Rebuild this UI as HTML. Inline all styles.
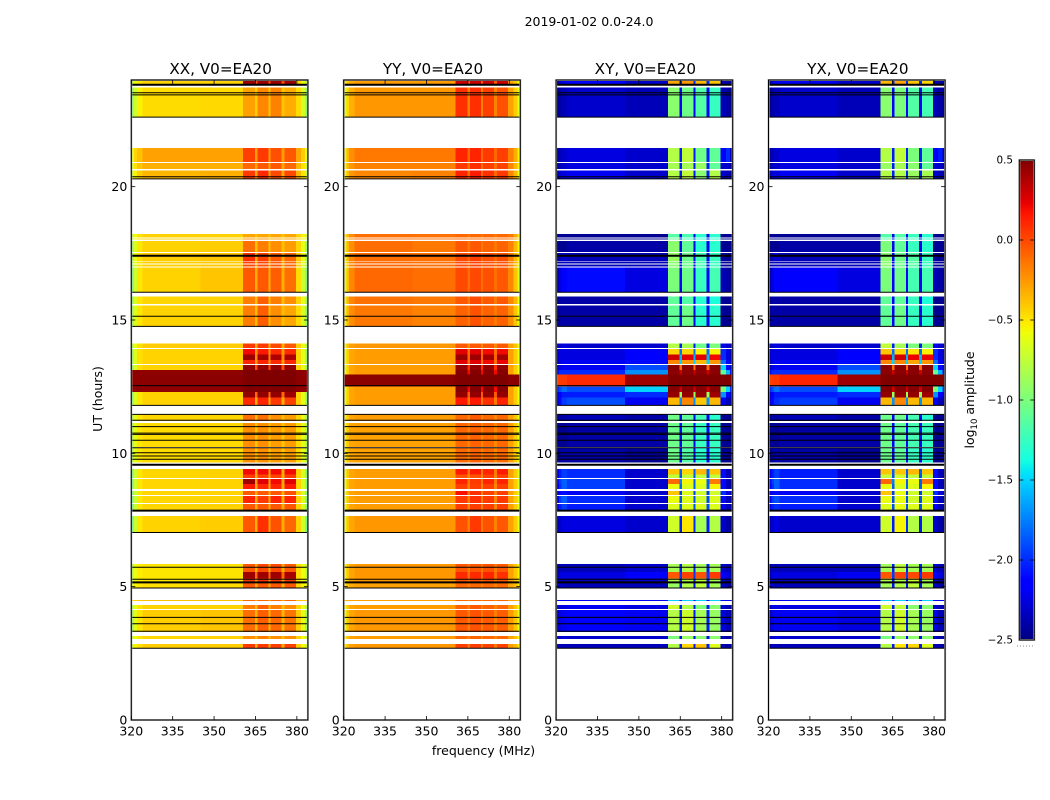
<!DOCTYPE html>
<html>
<head>
<meta charset="utf-8">
<title>2019-01-02 0.0-24.0</title>
<style>
html,body{margin:0;padding:0;background:#fff}
svg{display:block}
text{font-family:"DejaVu Sans","Liberation Sans",sans-serif;fill:#000}
</style>
</head>
<body>
<svg id="chart" xmlns="http://www.w3.org/2000/svg" width="1050" height="800" viewBox="0 0 1050 800">
<text x="589" y="26" font-size="12.5" text-anchor="middle">2019-01-02 0.0-24.0</text>
<text x="0" y="0" font-size="12.5" text-anchor="middle" transform="translate(102 399) rotate(-90)">UT (hours)</text>
<text x="483.5" y="755" font-size="12.5" text-anchor="middle">frequency (MHz)</text>
<text x="0" y="0" font-size="12.5" text-anchor="middle" transform="translate(974 400) rotate(-90)">log<tspan font-size="8.5" dy="3">10</tspan><tspan dy="-3"> amplitude</tspan></text>
</svg>
<script>
const panelTitles=["XX, V0=EA20","YY, V0=EA20","XY, V0=EA20","YX, V0=EA20"];
const xTicks=[320,335,350,365,380];
const yTicks=[0,5,10,15,20];
const colorbarTicks=[0.5,0,-0.5,-1,-1.5,-2,-2.5];
const freqEdges=[320,321,322,324,345,360.5,364.8,365.7,369.8,370.5,374.5,375.6,379.6,381.5,383,384];
const rowTop=[24,23.72,21.45,20.89,20.61,18.23,18.05,17.97,17.51,17.19,17.08,16.97,15.88,15.54,14.12,13.91,13.7,13.5,13.31,13.12,12.95,12.5,12.3,12.1,11.47,11.14,10.22,9.41,9.2,9.04,8.85,8.59,8.4,8.1,7.65,5.85,5.55,5.3,5.14,4.5,4.31,4.13,3.15,2.85,0.04];
const rowBottom=[23.83,22.61,20.93,20.66,20.31,18.09,18.01,17.55,17.22,17.11,17,16.05,15.6,14.78,13.95,13.7,13.5,13.35,13.12,12.95,12.5,12.3,12.1,11.79,11.21,10.24,9.66,9.2,9.08,8.85,8.66,8.44,8.14,7.84,7.03,5.55,5.3,5.18,4.95,4.47,4.16,3.3,3.04,2.7,0];
const blackLines=[23.82,23.52,23.44,22.61,20.37,20.29,17.41,16.04,15.14,14.76,12.54,11.8,11.46,11.24,11,10.76,10.71,10.49,10.21,10.02,9.9,9.78,9.57,7.85,7.03,5.73,5.28,5.16,4.95,3.85,3.61,3.33,2.69];
const thickLines=[23.82,17.41,9.57,7.85,5.16];
const ampXX=[
[-.75,-.6,-.5,-.44,-.44,.42,0,.42,0,.42,0,.42,-.45,-.6,-.8],
[-.9,-.7,-.54,-.47,-.46,-.28,-.42,-.2,-.4,-.18,-.4,-.32,-.47,-.68,-.92],
[-.6,-.45,-.38,-.28,-.28,.03,-.27,.05,-.27,-.02,-.27,-.05,-.3,-.42,-.62],
[-.65,-.5,-.4,-.33,-.33,-.1,-.3,-.05,-.3,-.05,-.3,-.1,-.35,-.5,-.7],
[-.7,-.55,-.42,-.35,-.33,.05,-.3,.1,-.3,0,-.3,0,-.35,-.5,-.75],
[-.7,-.58,-.48,-.44,-.44,-.3,-.4,-.3,-.4,-.3,-.4,-.3,-.44,-.55,-.7],
[-.7,-.58,-.48,-.44,-.44,-.25,-.4,-.25,-.4,-.3,-.4,-.3,-.44,-.55,-.7],
[-.85,-.65,-.5,-.44,-.42,-.12,-.38,-.17,-.38,-.22,-.38,-.27,-.44,-.62,-.87],
[-.85,-.6,-.48,-.42,-.4,.08,-.32,.03,-.32,-.05,-.32,-.1,-.42,-.62,-.87],
[-.85,-.62,-.5,-.43,-.41,.02,-.32,.02,-.32,-.05,-.32,-.1,-.42,-.62,-.87],
[-.9,-.65,-.5,-.43,-.41,0,-.32,0,-.32,-.05,-.32,-.1,-.43,-.65,-.9],
[-.95,-.7,-.5,-.44,-.4,-.05,-.32,-.05,-.32,-.07,-.32,-.12,-.47,-.72,-.97],
[-.9,-.65,-.5,-.45,-.44,-.17,-.37,-.07,-.37,-.17,-.37,-.22,-.44,-.62,-.87],
[-.85,-.65,-.5,-.44,-.44,-.17,-.37,-.07,-.37,-.22,-.37,-.3,-.47,-.67,-.92],
[-.8,-.6,-.48,-.42,-.42,.05,-.32,.05,-.32,0,-.32,-.05,-.42,-.62,-.8],
[-.85,-.65,-.48,-.44,-.44,.2,-.27,.15,-.27,.1,-.27,.1,-.44,-.62,-.87],
[-.85,-.65,-.48,-.44,-.44,.42,-.2,.4,-.2,.38,-.2,.38,-.44,-.62,-.87],
[-.85,-.65,-.48,-.44,-.44,.12,-.27,.12,-.27,.1,-.27,.1,-.44,-.62,-.87],
[-.9,-.65,-.48,-.44,-.44,.45,0,.45,0,.45,0,.45,-.44,-.62,-.9],
[.46,.46,.46,.46,.46,.5,.48,.5,.48,.5,.48,.5,.46,.46,.46],
[.46,.46,.46,.47,.47,.5,.5,.5,.5,.5,.5,.5,.47,.46,.46],
[.46,.46,.46,.46,.46,.5,.48,.5,.48,.5,.48,.5,.46,.46,.46],
[-.9,-.65,-.5,-.44,-.44,.45,-.1,.45,-.1,.45,-.1,.42,-.44,-.62,-.9],
[-.9,-.65,-.5,-.44,-.44,.1,-.32,.12,-.32,.05,-.32,.02,-.44,-.62,-.9],
[-.8,-.62,-.5,-.45,-.45,-.12,-.37,-.12,-.37,-.22,-.37,-.27,-.44,-.62,-.87],
[-.8,-.62,-.5,-.47,-.46,-.22,-.4,-.22,-.4,-.27,-.4,-.27,-.47,-.64,-.82],
[-.8,-.62,-.5,-.47,-.46,-.22,-.4,-.22,-.4,-.27,-.4,-.27,-.47,-.64,-.82],
[-.95,-.7,-.5,-.45,-.44,.2,-.32,.2,-.32,.2,-.32,.2,-.44,-.67,-.97],
[-.95,-.7,-.5,-.45,-.44,.05,-.32,.02,-.32,.02,-.32,.05,-.44,-.67,-.97],
[-.95,-.7,-.5,-.45,-.44,.42,-.25,.25,-.3,.2,-.3,.25,-.44,-.67,-.97],
[-.95,-.7,-.5,-.45,-.44,.15,-.32,.1,-.32,.12,-.32,.15,-.44,-.67,-.97],
[-1,-.72,-.5,-.45,-.44,-.05,-.32,-.05,-.32,-.05,-.32,-.02,-.44,-.67,-.97],
[-1,-.72,-.5,-.45,-.44,.12,-.32,.05,-.32,.12,-.32,.12,-.44,-.67,-.97],
[-1,-.72,-.5,-.45,-.44,-.05,-.32,-.05,-.32,-.05,-.32,-.05,-.44,-.67,-.97],
[-1,-.72,-.5,-.44,-.42,-.05,-.32,.08,-.3,-.03,-.32,-.1,-.44,-.7,-1.02],
[-.75,-.6,-.52,-.5,-.49,-.05,-.32,0,-.32,0,-.32,-.05,-.47,-.6,-.75],
[-.75,-.6,-.52,-.5,-.49,.42,-.1,.42,-.1,.42,-.1,.4,-.47,-.6,-.75],
[-.75,-.6,-.52,-.5,-.49,.05,-.32,.08,-.32,.05,-.32,.05,-.47,-.6,-.75],
[-.6,-.55,-.5,-.48,-.47,-.05,-.32,-.05,-.32,-.05,-.32,-.05,-.45,-.55,-.6],
[-.45,-.42,-.4,-.38,-.38,-.1,-.3,-.1,-.3,-.1,-.3,-.1,-.38,-.4,-.45],
[-.8,-.6,-.5,-.44,-.44,-.17,-.37,-.07,-.37,-.17,-.37,-.22,-.44,-.62,-.82],
[-.85,-.62,-.5,-.42,-.4,-.12,-.35,-.07,-.35,-.1,-.35,-.14,-.42,-.62,-.87],
[-.75,-.6,-.5,-.45,-.44,-.22,-.37,-.17,-.37,-.22,-.37,-.22,-.44,-.57,-.77],
[-.7,-.55,-.48,-.42,-.42,.05,-.32,.05,-.32,.03,-.32,.03,-.42,-.57,-.72],
[-.4,-.4,-.4,-.4,-.4,.05,-.3,.05,-.3,.05,-.3,.05,-.4,-.4,-.4]
];
const ampYY=[
[-.5,-.4,-.32,-.27,-.27,.3,-.05,.3,-.05,.3,-.05,.3,-.3,-.4,-.55],
[-.62,-.45,-.33,-.25,-.25,.08,-.18,.08,-.18,.03,-.18,-.03,-.28,-.42,-.62],
[-.55,-.35,-.22,-.15,-.15,.12,-.1,.12,-.1,.05,-.1,.03,-.18,-.32,-.55],
[-.55,-.35,-.25,-.18,-.18,.05,-.12,.08,-.12,.03,-.12,.02,-.2,-.35,-.55],
[-.55,-.38,-.25,-.2,-.18,.12,-.12,.15,-.1,.08,-.1,.05,-.2,-.35,-.6],
[-.5,-.35,-.22,-.12,-.13,-.1,-.15,-.1,-.15,-.1,-.15,-.1,-.15,-.3,-.5],
[-.5,-.35,-.22,-.12,-.13,-.1,-.15,-.1,-.15,-.1,-.15,-.1,-.15,-.3,-.5],
[-.55,-.35,-.22,-.12,-.15,-.05,-.15,-.05,-.15,-.08,-.15,-.08,-.18,-.35,-.55],
[-.55,-.35,-.2,-.12,-.13,0,-.1,.03,-.1,-.02,-.1,-.02,-.18,-.35,-.55],
[-.55,-.35,-.2,-.1,-.12,0,-.1,.02,-.1,-.02,-.1,-.02,-.18,-.35,-.55],
[-.58,-.38,-.2,-.1,-.12,0,-.1,.02,-.1,-.02,-.1,-.03,-.18,-.38,-.6],
[-.6,-.38,-.2,-.1,-.12,0,-.12,0,-.12,-.02,-.12,-.05,-.2,-.4,-.65],
[-.55,-.35,-.2,-.13,-.15,-.05,-.15,0,-.15,-.05,-.15,-.05,-.2,-.35,-.6],
[-.55,-.35,-.22,-.15,-.18,-.08,-.15,-.03,-.15,-.08,-.15,-.08,-.22,-.4,-.6],
[-.55,-.38,-.28,-.25,-.25,-.05,-.2,-.05,-.2,-.05,-.2,-.05,-.28,-.4,-.6],
[-.6,-.42,-.3,-.27,-.27,.25,-.12,.25,-.12,.2,-.12,.2,-.28,-.42,-.6],
[-.6,-.42,-.3,-.27,-.27,.42,-.08,.42,-.08,.4,-.08,.4,-.28,-.42,-.6],
[-.6,-.42,-.3,-.27,-.27,.25,-.12,.25,-.12,.2,-.12,.22,-.28,-.42,-.6],
[-.6,-.42,-.3,-.27,-.27,.45,.1,.45,.1,.45,.1,.45,-.28,-.42,-.6],
[-.6,-.42,-.3,-.27,-.27,.48,.2,.48,.2,.48,.2,.48,-.28,-.42,-.6],
[.47,.47,.47,.47,.47,.5,.5,.5,.5,.5,.5,.5,.47,.47,.47],
[-.6,-.42,-.3,-.27,-.27,.48,.2,.48,.2,.48,.2,.48,-.28,-.42,-.6],
[-.6,-.42,-.3,-.27,-.27,.45,-.05,.45,-.05,.45,-.05,.45,-.28,-.42,-.6],
[-.6,-.42,-.3,-.27,-.27,.15,-.15,.15,-.15,.08,-.15,.12,-.28,-.42,-.6],
[-.55,-.4,-.3,-.27,-.27,-.1,-.2,-.05,-.2,-.1,-.2,-.1,-.28,-.4,-.6],
[-.55,-.4,-.3,-.28,-.28,-.1,-.2,-.08,-.2,-.1,-.2,-.1,-.28,-.42,-.6],
[-.55,-.4,-.3,-.28,-.28,-.1,-.2,-.08,-.2,-.1,-.2,-.1,-.28,-.42,-.6],
[-.6,-.4,-.3,-.27,-.27,.15,-.15,.15,-.15,.12,-.15,.15,-.28,-.42,-.65],
[-.6,-.4,-.3,-.27,-.27,-.03,-.18,-.03,-.18,.03,-.18,.03,-.28,-.42,-.65],
[-.6,-.4,-.3,-.27,-.27,.12,-.15,.05,-.15,.12,-.15,.12,-.28,-.42,-.65],
[-.6,-.4,-.3,-.27,-.27,.03,-.18,.03,-.18,.03,-.18,.03,-.28,-.42,-.65],
[-.6,-.4,-.3,-.27,-.27,.18,-.15,.08,-.18,.03,-.18,.03,-.28,-.42,-.65],
[-.6,-.4,-.3,-.27,-.27,.05,-.18,.08,-.18,.05,-.18,.05,-.28,-.42,-.65],
[-.6,-.4,-.3,-.27,-.27,.03,-.18,.03,-.18,.03,-.18,.03,-.28,-.42,-.65],
[-.6,-.4,-.3,-.25,-.25,-.03,-.18,.05,-.15,-.03,-.18,-.05,-.28,-.42,-.62],
[-.55,-.4,-.3,-.25,-.25,-.05,-.15,-.05,-.15,-.03,-.15,-.05,-.28,-.4,-.55],
[-.55,-.4,-.3,-.25,-.25,.1,-.12,.1,-.12,.12,-.12,.08,-.28,-.4,-.55],
[-.55,-.4,-.3,-.25,-.25,-.03,-.15,-.03,-.15,-.03,-.15,-.05,-.28,-.4,-.55],
[-.5,-.38,-.32,-.28,-.28,-.1,-.18,-.1,-.18,-.1,-.18,-.1,-.3,-.38,-.5],
[-.35,-.32,-.3,-.28,-.28,-.1,-.2,-.1,-.2,-.1,-.2,-.1,-.28,-.32,-.35],
[-.58,-.4,-.3,-.27,-.27,-.08,-.18,-.05,-.18,-.08,-.18,-.1,-.28,-.4,-.58],
[-.6,-.4,-.3,-.25,-.25,-.05,-.17,-.03,-.17,-.05,-.17,-.07,-.27,-.4,-.6],
[-.55,-.38,-.3,-.27,-.27,-.1,-.2,-.08,-.2,-.1,-.2,-.1,-.28,-.38,-.55],
[-.5,-.36,-.28,-.25,-.25,.03,-.15,.03,-.15,.02,-.15,.02,-.27,-.36,-.5],
[-.3,-.3,-.3,-.3,-.3,.03,-.2,.03,-.2,.03,-.2,.03,-.3,-.3,-.3]
];
const ampXY=[
[-2.4,-2.3,-2.2,-2.15,-2.3,-.3,-2,-.25,-2,-.35,-2,-.4,-2.35,-2.4,-2.4],
[-2.45,-2.4,-2.35,-2.3,-2.35,-.95,-2.15,-1.05,-2.15,-1.15,-2.15,-1.25,-2.35,-2.4,-2.45],
[-2.4,-2.35,-2.3,-2.25,-2.3,-.8,-2.05,-.75,-2.05,-1.05,-2.05,-1.1,-2.15,-2,-2.35],
[-2.4,-2.35,-2.3,-2.25,-2.3,-.85,-2.05,-.85,-2.05,-.9,-2.05,-1.1,-2.3,-2.3,-2.4],
[-2.35,-2.3,-2.25,-2.2,-2.3,-.8,-2.05,-.75,-2.05,-.95,-2.05,-.8,-2.3,-2.35,-2.4],
[-2.45,-2.45,-2.45,-2.45,-2.45,-1.15,-2.2,-1.2,-2.2,-1.3,-2.2,-1.3,-2.45,-2.45,-2.45],
[-2.45,-2.45,-2.45,-2.45,-2.45,-1.1,-2.2,-1.2,-2.2,-1.3,-2.2,-1.3,-2.45,-2.45,-2.45],
[-2.45,-2.45,-2.45,-2.4,-2.4,-.95,-2.2,-1.1,-2.2,-1.3,-2.2,-1.3,-2.45,-2.45,-2.45],
[-2.4,-2.35,-2.3,-2.35,-2.35,-.9,-2.15,-1.05,-2.15,-1.2,-2.15,-1.25,-2.4,-2.45,-2.45],
[-2.4,-2.35,-2.35,-2.35,-2.35,-.95,-2.15,-1.05,-2.15,-1.2,-2.15,-1.25,-2.4,-2.45,-2.45],
[-2.4,-2.35,-2.35,-2.35,-2.35,-.95,-2.15,-1.05,-2.15,-1.2,-2.15,-1.25,-2.4,-2.45,-2.45],
[-2.35,-2.25,-2.15,-2.1,-2.25,-1,-2.15,-1.05,-2.15,-1.25,-2.15,-1.2,-2.35,-2.4,-2.45],
[-2.45,-2.4,-2.4,-2.4,-2.4,-1.1,-2.15,-1.15,-2.15,-1.3,-2.15,-1.35,-2.45,-2.45,-2.45],
[-2.45,-2.4,-2.4,-2.4,-2.4,-1.1,-2.15,-1.05,-2.15,-1.3,-2.15,-1.3,-2.45,-2.45,-2.45],
[-2.3,-2.3,-2.25,-2.3,-2.3,-.8,-2.05,-.85,-2.05,-1.05,-2.05,-1,-2.2,-2.3,-2.35],
[-2.3,-2.25,-2.25,-2.25,-2.15,-.45,-1.8,-.45,-1.8,-.55,-1.8,-.55,-2,-2.25,-2.35],
[-2.3,-2.25,-2.25,-2.25,-2.15,.3,-1.6,.25,-1.6,.25,-1.6,.2,-2,-2.25,-2.35],
[-2.3,-2.25,-2.2,-2.2,-2.1,-.2,-1.5,-.25,-1.5,-.35,-1.5,-.25,-1.8,-2.15,-2.3],
[-2.3,-2.25,-2.2,-2.2,-1.9,.48,-.1,.48,-.1,.48,-.1,.48,-1.5,-2.1,-2.3],
[-2.1,-2,-2,-2,-1.7,.47,.3,.47,.3,.47,.3,.47,-1.1,-1.6,-2.1],
[.02,.05,.05,.1,.42,.5,.5,.5,.5,.5,.5,.5,.5,.5,.48],
[-2,-1.9,-1.8,-1.9,-1.5,.48,.3,.48,.3,.48,.3,.48,-1,-1.5,-2],
[-2.25,-2.15,-2.05,-2.05,-2,.45,-.9,.45,-.9,.45,-.9,.42,-1.7,-2.15,-2.3],
[-2.25,-2.1,-1.95,-1.9,-2.2,-.35,-1.7,-.2,-1.7,-.4,-1.7,-.35,-2.2,-2.35,-2.4],
[-2.45,-2.4,-2.4,-2.35,-2.4,-1.05,-2.15,-1.1,-2.15,-1.2,-2.15,-1.3,-2.45,-2.45,-2.45],
[-2.45,-2.45,-2.45,-2.4,-2.4,-1.05,-2.15,-1.1,-2.15,-1.25,-2.15,-1.25,-2.45,-2.45,-2.45],
[-2.45,-2.4,-2.4,-2.4,-2.45,-1.05,-2.2,-1.15,-2.2,-1.3,-2.2,-1.3,-2.45,-2.45,-2.45],
[-2.2,-2.05,-1.95,-2,-2.3,-.4,-1.85,-.45,-1.85,-.35,-1.85,-.4,-2.1,-2.35,-2.4],
[-2.2,-2.05,-1.95,-2,-2.3,-.75,-1.9,-.75,-1.9,-.75,-1.9,-.75,-2.1,-2.35,-2.4],
[-2.1,-1.95,-1.85,-1.95,-2.3,-.1,-1.75,-.55,-1.85,-.6,-1.85,-.15,-2.1,-2.35,-2.4],
[-2.15,-2,-1.85,-1.95,-2.3,-.6,-1.85,-.65,-1.85,-.65,-1.85,-.55,-2.1,-2.35,-2.4],
[-2.25,-2.15,-2.1,-2.2,-2.3,-.4,-1.95,-.65,-1.95,-.7,-1.95,-.7,-2,-2.25,-2.35],
[-2.15,-1.95,-1.85,-2,-2.3,-.6,-1.9,-.65,-1.9,-.7,-1.9,-.65,-2.1,-2.35,-2.4],
[-2.2,-2.05,-1.95,-2.05,-2.3,-.65,-1.9,-.65,-1.9,-.65,-1.9,-.65,-2.2,-2.35,-2.4],
[-2.35,-2.3,-2.25,-2.25,-2.3,-.7,-2.05,-.5,-2,-.85,-2.05,-.8,-2.3,-2.4,-2.45],
[-2.4,-2.35,-2.35,-2.35,-2.3,-.85,-2.05,-.8,-2.05,-.85,-2.05,-.85,-2.3,-2.35,-2.4],
[-2.35,-2.25,-2.25,-2.25,-2.15,-.05,-1.95,.02,-1.95,-.03,-1.95,.05,-2.15,-2.25,-2.35],
[-2.35,-2.3,-2.35,-2.35,-2.3,-.8,-2.05,-.8,-2.05,-.75,-2.05,-.85,-2.3,-2.4,-2.4],
[-2.3,-2.3,-2.35,-2.35,-2.35,-.9,-2.1,-.8,-2.1,-.75,-2.1,-.85,-2.35,-2.4,-2.4],
[-2.2,-2.2,-2.2,-2.2,-2.2,-1.5,-2.1,-1.5,-2.1,-1.5,-2.1,-1.5,-2.2,-2.2,-2.2],
[-2.3,-2.25,-2.25,-2.2,-2.25,-.7,-2.05,-.8,-2.05,-1,-2.05,-.95,-2.3,-2.35,-2.4],
[-2.3,-2.25,-2.2,-2.15,-2.2,-.8,-2.05,-.7,-2.05,-.85,-2.05,-.9,-2.25,-2.35,-2.4],
[-2.3,-2.3,-2.25,-2.3,-2.3,-1,-2.15,-.9,-2.15,-.95,-2.15,-.95,-2.35,-2.4,-2.4],
[-2.4,-2.35,-2.35,-2.35,-2.35,-.8,-2.05,-.45,-2.05,-.4,-2.05,-.65,-2.35,-2.4,-2.4],
[-2.3,-2.3,-2.3,-2.3,-2.3,-.4,-2.1,-.4,-2.1,-.4,-2.1,-.4,-2.3,-2.3,-2.3]
];
const ampYX=[
[-2.4,-2.3,-2.2,-2.2,-2.3,-.35,-2,-.3,-2,-.4,-2,-.45,-2.35,-2.4,-2.4],
[-2.45,-2.4,-2.35,-2.3,-2.35,-.95,-2.15,-1,-2.15,-1.15,-2.15,-1.2,-2.35,-2.4,-2.45],
[-2.4,-2.35,-2.3,-2.25,-2.3,-.8,-2.05,-.75,-2.05,-1,-2.05,-1.1,-2.15,-2.05,-2.35],
[-2.4,-2.35,-2.3,-2.25,-2.3,-.9,-2.05,-.85,-2.05,-.95,-2.05,-1.1,-2.3,-2.3,-2.4],
[-2.35,-2.3,-2.25,-2.2,-2.3,-.8,-2.05,-.8,-2.05,-.9,-2.05,-.85,-2.3,-2.35,-2.4],
[-2.45,-2.45,-2.45,-2.45,-2.45,-1.15,-2.2,-1.15,-2.2,-1.25,-2.2,-1.3,-2.45,-2.45,-2.45],
[-2.45,-2.45,-2.45,-2.45,-2.45,-1.15,-2.2,-1.15,-2.2,-1.25,-2.2,-1.3,-2.45,-2.45,-2.45],
[-2.45,-2.45,-2.45,-2.4,-2.4,-1,-2.2,-1.1,-2.2,-1.25,-2.2,-1.3,-2.45,-2.45,-2.45],
[-2.4,-2.35,-2.3,-2.35,-2.35,-.95,-2.15,-1.05,-2.15,-1.15,-2.15,-1.25,-2.4,-2.45,-2.45],
[-2.4,-2.35,-2.35,-2.35,-2.35,-.95,-2.15,-1.05,-2.15,-1.15,-2.15,-1.25,-2.4,-2.45,-2.45],
[-2.4,-2.35,-2.35,-2.35,-2.35,-.95,-2.15,-1.05,-2.15,-1.15,-2.15,-1.25,-2.4,-2.45,-2.45],
[-2.35,-2.25,-2.15,-2.15,-2.25,-1,-2.15,-1.05,-2.15,-1.2,-2.15,-1.2,-2.35,-2.4,-2.45],
[-2.45,-2.4,-2.4,-2.4,-2.4,-1.1,-2.15,-1.1,-2.15,-1.25,-2.15,-1.35,-2.45,-2.45,-2.45],
[-2.45,-2.4,-2.4,-2.4,-2.4,-1.1,-2.15,-1.05,-2.15,-1.25,-2.15,-1.3,-2.45,-2.45,-2.45],
[-2.3,-2.3,-2.25,-2.3,-2.3,-.75,-2.05,-.85,-2.05,-1,-2.05,-1,-2.2,-2.3,-2.35],
[-2.3,-2.25,-2.25,-2.25,-2.15,-.4,-1.8,-.45,-1.8,-.5,-1.8,-.55,-2,-2.25,-2.35],
[-2.3,-2.25,-2.25,-2.25,-2.15,.3,-1.6,.28,-1.6,.22,-1.6,.22,-2,-2.25,-2.35],
[-2.3,-2.25,-2.2,-2.2,-2.1,-.2,-1.5,-.2,-1.5,-.3,-1.5,-.25,-1.8,-2.15,-2.3],
[-2.3,-2.25,-2.2,-2.2,-1.9,.48,-.1,.48,-.1,.48,-.1,.48,-1.5,-2.1,-2.3],
[-2.1,-2,-2,-2,-1.7,.47,.3,.47,.3,.47,.3,.47,-1.1,-1.6,-2.1],
[.03,.05,.06,.12,.42,.5,.5,.5,.5,.5,.5,.5,.5,.5,.48],
[-2,-1.9,-1.8,-1.9,-1.5,.48,.3,.48,.3,.48,.3,.48,-1,-1.5,-2],
[-2.25,-2.15,-2.05,-2.05,-2,.45,-.9,.45,-.9,.45,-.9,.42,-1.7,-2.15,-2.3],
[-2.25,-2.1,-2,-1.95,-2.2,-.35,-1.7,-.2,-1.7,-.35,-1.7,-.35,-2.2,-2.35,-2.4],
[-2.45,-2.4,-2.4,-2.35,-2.4,-1.05,-2.15,-1.05,-2.15,-1.2,-2.15,-1.3,-2.45,-2.45,-2.45],
[-2.45,-2.45,-2.45,-2.4,-2.4,-1.05,-2.15,-1.1,-2.15,-1.2,-2.15,-1.25,-2.45,-2.45,-2.45],
[-2.45,-2.4,-2.4,-2.4,-2.45,-1.05,-2.2,-1.1,-2.2,-1.25,-2.2,-1.3,-2.45,-2.45,-2.45],
[-2.2,-2.05,-1.95,-2.05,-2.3,-.4,-1.85,-.4,-1.85,-.35,-1.85,-.4,-2.1,-2.35,-2.4],
[-2.2,-2.05,-1.95,-2.05,-2.3,-.75,-1.9,-.7,-1.9,-.75,-1.9,-.75,-2.1,-2.35,-2.4],
[-2.1,-1.95,-1.85,-2,-2.3,-.1,-1.75,-.55,-1.85,-.6,-1.85,-.15,-2.1,-2.35,-2.4],
[-2.15,-2,-1.85,-2,-2.3,-.6,-1.85,-.65,-1.85,-.65,-1.85,-.55,-2.1,-2.35,-2.4],
[-2.25,-2.15,-2.1,-2.2,-2.3,-.4,-1.95,-.6,-1.95,-.7,-1.95,-.7,-2,-2.25,-2.35],
[-2.15,-1.95,-1.9,-2,-2.3,-.6,-1.9,-.6,-1.9,-.7,-1.9,-.65,-2.1,-2.35,-2.4],
[-2.2,-2.05,-2,-2.05,-2.3,-.65,-1.9,-.6,-1.9,-.65,-1.9,-.65,-2.2,-2.35,-2.4],
[-2.35,-2.3,-2.25,-2.3,-2.3,-.7,-2.05,-.55,-2,-.8,-2.05,-.8,-2.3,-2.4,-2.45],
[-2.4,-2.35,-2.35,-2.35,-2.35,-.85,-2.05,-.75,-2.05,-.85,-2.05,-.85,-2.3,-2.35,-2.4],
[-2.35,-2.25,-2.25,-2.25,-2.2,-.05,-1.95,.02,-1.95,0,-1.95,.05,-2.15,-2.25,-2.35],
[-2.35,-2.3,-2.35,-2.35,-2.3,-.8,-2.05,-.8,-2.05,-.7,-2.05,-.85,-2.3,-2.4,-2.4],
[-2.3,-2.3,-2.35,-2.35,-2.35,-.85,-2.1,-.8,-2.1,-.75,-2.1,-.85,-2.35,-2.4,-2.4],
[-2.2,-2.2,-2.2,-2.2,-2.2,-1.5,-2.1,-1.5,-2.1,-1.5,-2.1,-1.5,-2.2,-2.2,-2.2],
[-2.3,-2.25,-2.25,-2.25,-2.25,-.7,-2.05,-.75,-2.05,-.95,-2.05,-.95,-2.3,-2.35,-2.4],
[-2.3,-2.25,-2.2,-2.2,-2.25,-.8,-2.05,-.7,-2.05,-.85,-2.05,-.9,-2.25,-2.35,-2.4],
[-2.3,-2.3,-2.25,-2.3,-2.3,-1,-2.15,-.9,-2.15,-.95,-2.15,-.95,-2.35,-2.4,-2.4],
[-2.4,-2.35,-2.35,-2.35,-2.35,-.8,-2.05,-.5,-2.05,-.45,-2.05,-.65,-2.35,-2.4,-2.4],
[-2.3,-2.3,-2.3,-2.3,-2.3,-.4,-2.1,-.4,-2.1,-.4,-2.1,-.4,-2.3,-2.3,-2.3]
];
const panelData=[ampXX,ampYY,ampXY,ampYX];
const panelNames=["xx","yy","xy","yx"];

const NS="http://www.w3.org/2000/svg";
const svg=document.getElementById("chart");
const axLeft=[131.3,343.7,556.1,768.5], axWidth=176.6, axTop=80, axBottom=720;
const fMin=320,fMax=384,tMin=0,tMax=24,vMin=-2.5,vMax=0.5;
const cbX=1019.3,cbW=15,cbTop=160,cbBottom=640;
function xScale(i,f){return axLeft[i]+(f-fMin)/(fMax-fMin)*axWidth;}
function yScale(t){return axBottom-(t-tMin)/(tMax-tMin)*(axBottom-axTop);}
function cbScale(v){return cbBottom-(v-vMin)/(vMax-vMin)*(cbBottom-cbTop);}
function ramp(t,a,b,c,d){
  if(t<a)return 0;
  if(t<b)return (t-a)/(b-a);
  if(t<c)return 1;
  if(t<d)return (d-t)/(d-c);
  return 0;
}
function jet(v){
  const t=Math.max(0,Math.min(1,(v-vMin)/(vMax-vMin)));
  const r=t>=.89?1-(t-.89)/.11*.5:ramp(t,.35,.66,.89,2);
  const g=ramp(t,.125,.375,.64,.91);
  const b=t<.11?.5+t/.11*.5:ramp(t,-1,.11,.34,.65);
  return "rgb("+Math.round(r*255)+","+Math.round(g*255)+","+Math.round(b*255)+")";
}
function el(tag,attrs,parent){
  const e=document.createElementNS(NS,tag);
  for(const k in attrs)e.setAttribute(k,attrs[k]);
  (parent||svg).appendChild(e);
  return e;
}
panelTitles.forEach(function(title,p){
  const g=el("g",{});
  
  
  const matrix=panelData[p];
  matrix.forEach(function(row,r){
    row.forEach(function(val,c){
      const x0=xScale(p,freqEdges[c]),x1=xScale(p,freqEdges[c+1]);
      const y0=yScale(rowTop[r]),y1=yScale(rowBottom[r]);
      const cell=el("rect",{x:x0,y:y0,width:x1-x0,height:Math.max(y1-y0,.8),fill:jet(val),"shape-rendering":"crispEdges"},g);
      
      
    });
  });
  blackLines.forEach(function(t){
    const line=el("line",{x1:axLeft[p],x2:axLeft[p]+axWidth,y1:yScale(t),y2:yScale(t),stroke:"#000","stroke-width":thickLines.indexOf(t)>=0?2:1},g);
    
    
  });
  const halo=el("rect",{x:axLeft[p],y:axTop,width:axWidth,height:axBottom-axTop,fill:"none",stroke:"#b8b8b8","stroke-width":2},g);
  
  
  const frame=el("rect",{x:axLeft[p],y:axTop,width:axWidth,height:axBottom-axTop,fill:"none",stroke:"#000","stroke-width":1},g);
  
  
  const head=el("text",{x:axLeft[p]+axWidth/2+1,y:74,"font-size":15.2,"text-anchor":"middle"},g);
  head.textContent=title;
  
  
  xTicks.forEach(function(f){
    const x=xScale(p,f);
    [[axBottom,axBottom-4],[axTop,axTop+4]].forEach(function(s){
      const tick=el("line",{x1:x,x2:x,y1:s[0],y2:s[1],stroke:"#000","stroke-width":.8},g);
      
      
    });
    const lab=el("text",{x:x,y:735.5,"font-size":12.5,"text-anchor":"middle"},g);
    lab.textContent=String(f);
    
    
  });
  yTicks.forEach(function(t){
    const y=yScale(t),l=axLeft[p],rr=axLeft[p]+axWidth;
    [[l,l+4],[rr,rr-4]].forEach(function(s){
      const tick=el("line",{x1:s[0],x2:s[1],y1:y,y2:y,stroke:"#000","stroke-width":.8},g);
      
      
    });
    const lab=el("text",{x:l-4,y:y+4.5,"font-size":12.5,"text-anchor":"end"},g);
    lab.textContent=String(t);
    
    
  });
});
const cb=el("g",{});


for(let i=0;i<240;i++){
  const v0=vMin+(vMax-vMin)*i/240,v1=vMin+(vMax-vMin)*(i+1)/240;
  const seg=el("rect",{x:cbX,y:cbScale(v1),width:cbW,height:cbScale(v0)-cbScale(v1),fill:jet((v0+v1)/2),"shape-rendering":"crispEdges"},cb);
  
  
}
const cbHalo=el("rect",{x:cbX,y:cbTop,width:cbW,height:cbBottom-cbTop,fill:"none",stroke:"#b8b8b8","stroke-width":2},cb);


const cbFrame=el("rect",{x:cbX,y:cbTop,width:cbW,height:cbBottom-cbTop,fill:"none",stroke:"#000","stroke-width":1},cb);


colorbarTicks.forEach(function(v){
  const y=cbScale(v);
  [[cbX,cbX+4],[cbX+cbW,cbX+cbW-4]].forEach(function(s){
    const tick=el("line",{x1:s[0],x2:s[1],y1:y,y2:y,stroke:"#000","stroke-width":.8},cb);
    
    
  });
  const lab=el("text",{x:1013,y:y+3.5,"font-size":10.4,"text-anchor":"end"},cb);
  lab.textContent=(v<0?"\u2212":"")+Math.abs(v).toFixed(1);
  
  
});
const dots=el("line",{x1:1017,x2:1035,y1:646,y2:646,stroke:"#888","stroke-width":1,"stroke-dasharray":"1 2"},cb);


</script>
</body>
</html>
